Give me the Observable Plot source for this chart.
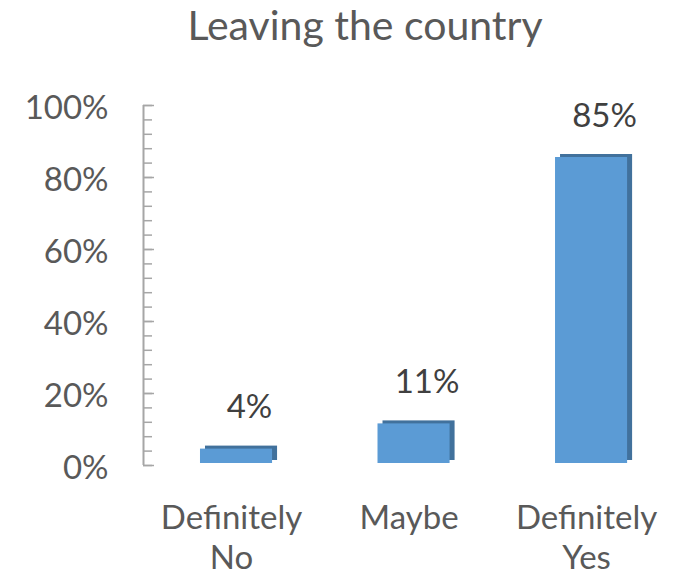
<!DOCTYPE html>
<html><head><meta charset="utf-8">
<script src="https://cdn.jsdelivr.net/npm/d3@7"></script>
<script src="https://cdn.jsdelivr.net/npm/@observablehq/plot@0.6"></script>
<style>body{margin:0;background:#fff;} svg{display:block}</style>
</head><body><div id="chart"></div>
<script>
const title = "Leaving the country";
const categories = ["Definitely\nNo", "Maybe", "Definitely\nYes"];
const values = [0.04, 0.11, 0.85];
const valueLabels = ["4%", "11%", "85%"];
const yTicks = [0, 0.2, 0.4, 0.6, 0.8, 1.0];
const yTickLabels = ["0%", "20%", "40%", "60%", "80%", "100%"];
const yMinorTicks = d3.range(0, 26).map(d => d * 0.04);

const data = categories.map((c, i) => ({i, category: c, value: values[i], label: valueLabels[i]}));

const xDomain = [-0.524, 2.501];
const half = 0.203;
const px = 1 / 177.5; // one pixel in x-scale units
const font = "Lato, 'Open Sans', sans-serif";
const front = "#5B9BD5", side = "#41719C", axisColor = "#A6A6A6";

const chart = Plot.plot({
  width: 687,
  height: 576,
  marginLeft: 143,
  marginRight: 7,
  marginTop: 105,
  marginBottom: 111,
  style: {fontFamily: font, background: "#fff"},
  x: {domain: xDomain, axis: null},
  y: {domain: [0, 1], axis: null},
  marks: [
    // axis line and ticks
    Plot.ruleX([xDomain[0]], {stroke: axisColor, strokeWidth: 2}),
    Plot.ruleY(yMinorTicks, {y: d => d, x1: xDomain[0], x2: xDomain[0] + 9 * px, stroke: axisColor, strokeWidth: 1.5}),
    Plot.ruleY(yTicks, {y: d => d, x1: xDomain[0], x2: xDomain[0] + 11 * px, stroke: axisColor, strokeWidth: 1.5}),
    Plot.text(yTicks, {x: xDomain[0], y: d => d, text: (d, i) => yTickLabels[i], textAnchor: "end", dx: -35, dy: 3, fontSize: 33, fill: "#595959", fontFamily: font}),
    // 3D bars: back (side/top) then front face
    Plot.rectY(data, {x1: d => d.i - half, x2: d => d.i + half, y: "value", fill: side, dx: 5, dy: -5}),
    Plot.rectY(data, {x1: d => d.i - half, x2: d => d.i + half, y: "value", fill: front, dy: -2}),
    // value labels
    Plot.text(data, {x: "i", y: "value", text: "label", lineAnchor: "bottom", dx: 13, dy: -33, fontSize: 33, fill: "#404040", fontFamily: font}),
    // category labels
    Plot.text(data, {x: "i", y: 0, text: "category", lineAnchor: "top", dx: -5, dy: 34, lineHeight: 1.24, fontSize: 33, fill: "#595959", fontFamily: font}),
    // title
    Plot.text([title], {frameAnchor: "top", lineAnchor: "top", dx: -47, dy: -95, fontSize: 41, fill: "#595959", fontFamily: font})
  ]
});
document.getElementById("chart").append(chart);
</script>
</body></html>
